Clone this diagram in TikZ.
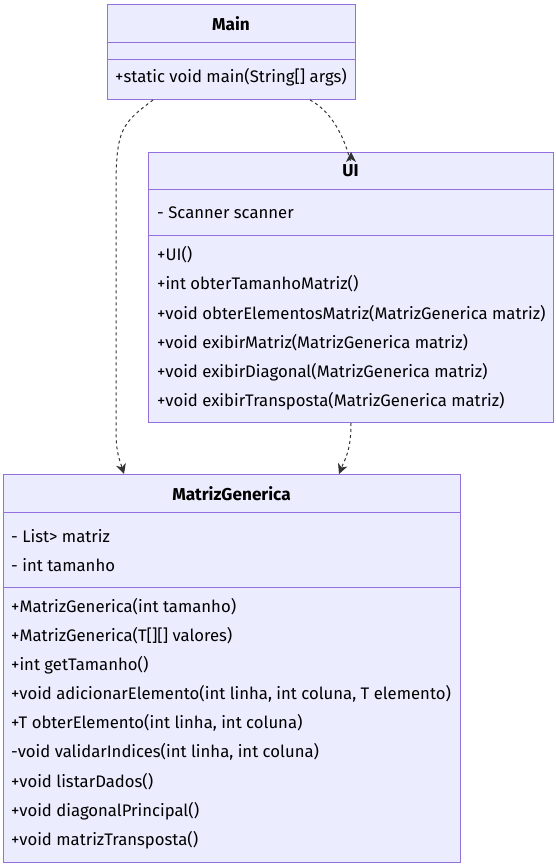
\documentclass[tikz,border=0pt]{standalone}
\usepackage{fontspec}
\setmainfont{Fira Sans}
\usetikzlibrary{arrows.meta,calc}
\definecolor{boxfill}{HTML}{ECECFF}
\definecolor{boxline}{HTML}{9370DB}
\definecolor{edge}{HTML}{333333}
\tikzset{
  classbox/.style={draw=boxline, fill=boxfill, line width=1pt, anchor=north west, inner sep=0pt},
  divider/.style={draw=boxline, line width=1pt},
  title/.style={font=\fontsize{17.2}{19}\selectfont\bfseries, text=black, inner sep=0pt},
  member/.style={font=\fontsize{16.7}{19}\selectfont, text=black, anchor=west, inner sep=0pt},
  dep/.style={draw=edge, line width=1pt, dash pattern=on 3pt off 3pt, -{Stealth[length=10pt,width=10pt,inset=3pt]}}
}
\begin{document}
\begin{tikzpicture}[x=1pt,y=-1pt]
\useasboundingbox (0,0) rectangle (556,865);
% Main
\node[classbox, minimum width=248pt, minimum height=95pt] (main) at (107,4) {};
\draw[divider] (107,42) -- (355,42);
\draw[divider] (107,59) -- (355,59);
\node[title] (mainT) at (231,24) {Main};
\node[member] (mainM1) at (115,77) {+static void main(String[] args)};
% UI
\node[classbox, minimum width=405pt, minimum height=270pt] (ui) at (148,152) {};
\draw[divider] (148,189) -- (553,189);
\draw[divider] (148,235) -- (553,235);
\node[title] (uiT) at (350.5,171) {UI};
\node[member] (uiA1) at (157,213) {- Scanner scanner};
\node[member] (uiM1) at (157,255) {+UI()};
\node[member] (uiM2) at (157,284) {+int obterTamanhoMatriz()};
\node[member] (uiM3) at (157,314) {+void obterElementosMatriz(MatrizGenerica matriz)};
\node[member] (uiM4) at (157,343) {+void exibirMatriz(MatrizGenerica matriz)};
\node[member] (uiM5) at (157,372) {+void exibirDiagonal(MatrizGenerica matriz)};
\node[member] (uiM6) at (157,401) {+void exibirTransposta(MatrizGenerica matriz)};
% MatrizGenerica
\node[classbox, minimum width=457pt, minimum height=388pt] (mg) at (3,474) {};
\draw[divider] (3,512) -- (460,512);
\draw[divider] (3,587) -- (460,587);
\node[title] (mgT) at (231.5,494) {MatrizGenerica};
\node[member] (mgA1) at (11,536) {- List> matriz};
\node[member] (mgA2) at (11,565) {- int tamanho};
\node[member] (mgM1) at (11,607) {+MatrizGenerica(int tamanho)};
\node[member] (mgM2) at (11,636) {+MatrizGenerica(T[][] valores)};
\node[member] (mgM3) at (11,665) {+int getTamanho()};
\node[member] (mgM4) at (11,694) {+void adicionarElemento(int linha, int coluna, T elemento)};
\node[member] (mgM5) at (11,723) {+T obterElemento(int linha, int coluna)};
\node[member] (mgM6) at (11,752) {-void validarIndices(int linha, int coluna)};
\node[member] (mgM7) at (11,782) {+void listarDados()};
\node[member] (mgM8) at (11,811) {+void diagonalPrincipal()};
\node[member] (mgM9) at (11,840) {+void matrizTransposta()};
% connectors
\draw[dep] ([xshift=203pt]main.south west) .. controls ([xshift=240pt,yshift=-20pt]main.south west) and ([xshift=203pt,yshift=-22pt]ui.north west) .. ([xshift=203pt]ui.north west);
\draw[dep] ([xshift=46pt]main.south west) .. controls ([xshift=14pt,yshift=-24pt]main.south west) and (116,130) .. (116,190) -- (116,430) .. controls (116,452) and (119,458) .. ([xshift=121pt]mg.north west);
\draw[dep] ([xshift=203pt]ui.south west) .. controls ([xshift=203pt,yshift=-28pt]ui.south west) and ([xshift=197pt,yshift=-36pt]ui.south west) .. ([xshift=336pt]mg.north west);
\end{tikzpicture}
\end{document}
